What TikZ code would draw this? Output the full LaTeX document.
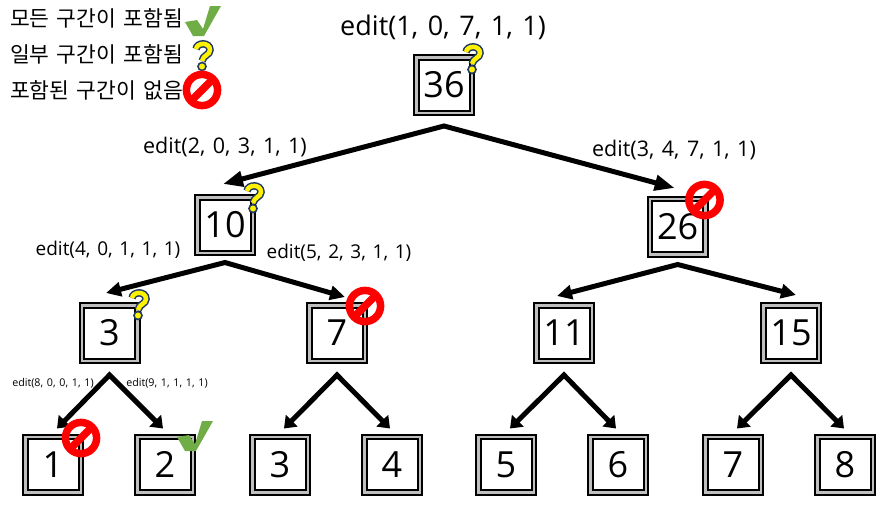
\documentclass[tikz,border=0pt]{standalone}
\usepackage{fontspec}
\usepackage{xcolor}
\setmainfont[WordSpace=1.35]{Open Sans}
\newfontfamily\krfont[WordSpace=1.5]{Noto Sans CJK KR}
\usetikzlibrary{arrows.meta,positioning}
\definecolor{okgreen}{HTML}{70AD47}
\definecolor{askblue}{HTML}{1F3864}
\tikzset{
    pics/okmark/.style={code={
        \fill[okgreen] (-18,1) -- (-6,-1) -- (0,8) -- (7,-15) -- (18,-15) -- (1,15) -- (-10,15) -- cycle;
    }},
    pics/partmark/.style={code={
        \draw[askblue,line width=7.5pt] (-7,-7) .. controls (-6,-14) and (7,-14) .. (7,-6) .. controls (7,-1) and (0,-1) .. (-1,5);
        \draw[yellow,line width=4.5pt] (-7,-7) .. controls (-6,-14) and (7,-14) .. (7,-6) .. controls (7,-1) and (0,-1) .. (-1,5);
        \fill[yellow,draw=askblue,line width=1.6pt] (-1,10.5) circle (4);
    }},
    pics/nonemark/.style={code={
        \draw[red,line width=7.5pt] (0,0) circle (15.6);
        \draw[red,line width=7.5pt] (11,-11) -- (-11,11);
    }}
}
\begin{document}
\begin{tikzpicture}[
        x=1pt,y=-1pt,
        cell/.style={draw,line width=2pt,double=black!25,double distance=2.5pt,fill=white,
            minimum size=55.5pt,inner sep=0pt,outer sep=3.25pt,font=\fontsize{36}{36}\selectfont},
        edge/.style 2 args={{Triangle[length=#1pt,width=#2pt]}-{Triangle[length=#1pt,width=#2pt]},line width=5pt},
        legend/.style={anchor=west,inner sep=0pt,font=\krfont\fontsize{21.5}{21.5}\selectfont}
    ]
    \useasboundingbox (0,0) rectangle (890,509);

    % legend
    \node[legend] (allin) at (10,18) {모든 구간이 포함됨};
    \node[legend] (somein) at (10,54) {일부 구간이 포함됨};
    \node[legend] (nonein) at (10,90) {포함된 구간이 없음};
    \pic at (203,21) {okmark};
    \pic at (203,56) {partmark};
    \pic at (202,90) {nonemark};

    % tree
    \node[cell] (n36) at (444,85) {36};
    \node[cell,below left=78pt and 157pt of n36] (n10) {10};
    \node[cell,below right=79.5pt and 171.7pt of n36] (n26) {26};
    \node[cell,below left=46pt and 53.5pt of n10] (n3) {3};
    \node[cell,right=165.5pt of n3] (n7) {7};
    \node[cell,right=165pt of n7] (n11) {11};
    \node[cell,right=165pt of n11] (n15) {15};

    \node[cell,below=69.5pt of n3,xshift=-56.5pt] (leafa) {1};
    \node[cell,right=50pt of leafa] (leafb) {2};
    \node[cell,right=53pt of leafb] (leafc) {3};
    \node[cell,right=50pt of leafc] (leafd) {4};
    \node[cell,right=52pt of leafd] (leafe) {5};
    \node[cell,right=50pt of leafe] (leaff) {6};
    \node[cell,right=53pt of leaff] (leafg) {7};
    \node[cell,right=50pt of leafg] (leafh) {8};

    \coordinate[below=10pt of n36] (top36);
    \coordinate[below=6.5pt of n10] (top10);
    \coordinate[below=7pt of n26] (top26);
    \coordinate[below=11pt of n3] (top3);
    \coordinate[below=11pt of n7] (top7);
    \coordinate[below=11pt of n11] (top11);
    \coordinate[below=11pt of n15] (top15);

    \draw[edge={20}{15}] ([shift={(-2,-10)}]n10.north) -- (top36) -- ([shift={(-3,-7.5)}]n26.north);
    \draw[edge={15}{14}] ([shift={(-3.5,-9)}]n3.north) -- (top10) -- ([shift={(8,-5)}]n7.north);
    \draw[edge={15}{14}] ([shift={(-7,-6)}]n11.north) -- (top26) -- ([shift={(5,-7)}]n15.north);
    \draw[edge={11}{16}] ([shift={(4,-5)}]leafa.north) -- (top3) -- ([shift={(-2,-5)}]leafb.north);
    \draw[edge={11}{16}] ([shift={(4,-5)}]leafc.north) -- (top7) -- ([shift={(-2,-5)}]leafd.north);
    \draw[edge={11}{16}] ([shift={(4,-5)}]leafe.north) -- (top11) -- ([shift={(-2,-5)}]leaff.north);
    \draw[edge={11}{16}] ([shift={(4,-5)}]leafg.north) -- (top15) -- ([shift={(-1,-5)}]leafh.north);

    % marks on the nodes
    \pic at (473,59) {partmark};
    \pic at (254,198) {partmark};
    \pic at (139,305) {partmark};
    \pic at (704.5,200) {nonemark};
    \pic at (365,306) {nonemark};
    \pic at (81,438) {nonemark};
    \pic at (195,436) {okmark};

    % calls
    \node[font=\fontsize{27}{27}\selectfont] (call36) at (443,27) {edit(1, 0, 7, 1, 1)};
    \node[font=\fontsize{21.5}{21.5}\selectfont] (call10) at (225,147) {edit(2, 0, 3, 1, 1)};
    \node[font=\fontsize{21.5}{21.5}\selectfont] (call26) at (674,150) {edit(3, 4, 7, 1, 1)};
    \node[font=\fontsize{19}{19}\selectfont] (call3) at (108,250) {edit(4, 0, 1, 1, 1)};
    \node[font=\fontsize{19}{19}\selectfont] (call7) at (339,253) {edit(5, 2, 3, 1, 1)};
    \node[font=\fontsize{10.7}{10.7}\selectfont] (calla) at (53,383) {edit(8, 0, 0, 1, 1)};
    \node[font=\fontsize{10.7}{10.7}\selectfont] (callb) at (167,383) {edit(9, 1, 1, 1, 1)};
\end{tikzpicture}
\end{document}
